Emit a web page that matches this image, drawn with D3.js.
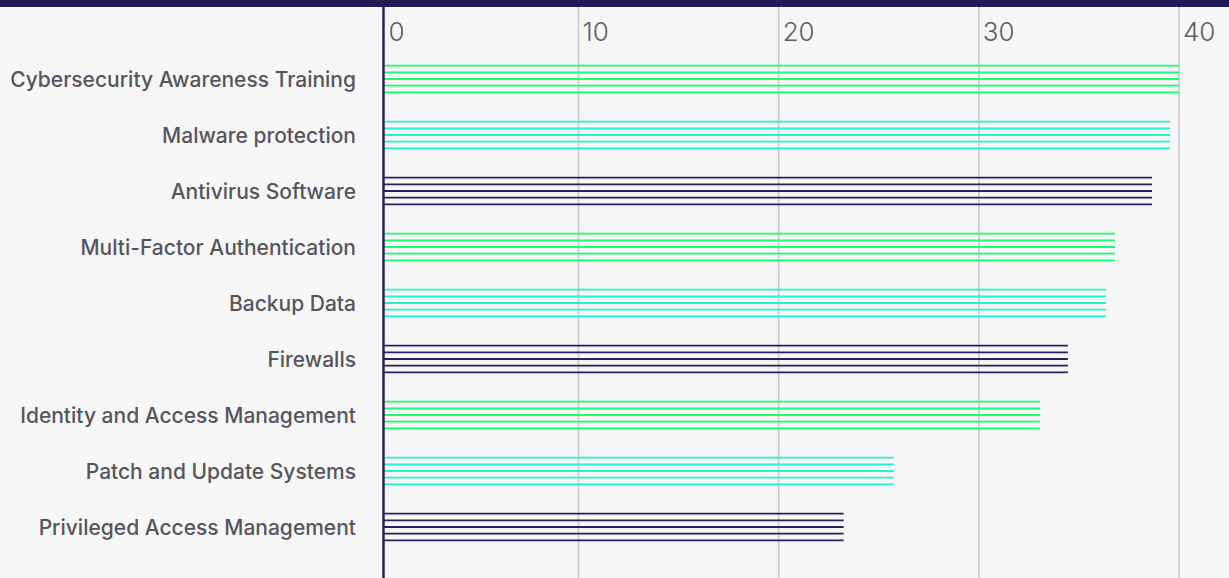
<!DOCTYPE html>
<html>
<head>
<meta charset="utf-8">
<script src="https://cdn.jsdelivr.net/npm/d3@7"></script>
<style>
  html, body { margin: 0; padding: 0; background: #f7f7f7; }
  svg { display: block; }
</style>
</head>
<body>
<svg id="chart" width="1229" height="578"></svg>
<script>
// Security measures in place and their share
const categories = [
  "Cybersecurity Awareness Training",
  "Malware protection",
  "Antivirus Software",
  "Multi-Factor Authentication",
  "Backup Data",
  "Firewalls",
  "Identity and Access Management",
  "Patch and Update Systems",
  "Privileged Access Management"
];
const values = [40, 39.55, 38.65, 36.8, 36.35, 34.45, 33.05, 25.75, 23.25];
const tickValues = [0, 10, 20, 30, 40];
const palette = ["#16ff6e", "#1cf5d2", "#2a1f62"];

const W = 1229, H = 578;
const svg = d3.select("#chart");

svg.append("rect").attr("width", W).attr("height", H).attr("fill", "#f7f7f7");

const x = d3.scaleLinear().domain([0, 40]).range([378.3, 1179]);
const y = d3.scalePoint().domain(categories).range([79, 527]);
const axisX = 383.5;
const plotTop = 7;

// vertical grid lines
svg.append("g")
  .selectAll("line")
  .data(tickValues.filter(d => d > 0))
  .join("line")
  .attr("x1", d => x(d)).attr("x2", d => x(d))
  .attr("y1", plotTop).attr("y2", H)
  .attr("stroke", "#cbc8d8")
  .attr("stroke-width", 1.6);

// tick labels along the top
svg.append("g")
  .selectAll("text")
  .data(tickValues)
  .join("text")
  .attr("x", d => (d === 0 ? axisX + 1 : x(d)) + 4)
  .attr("y", 41)
  .attr("font-family", "Inter, 'Noto Sans', sans-serif")
  .attr("font-weight", 300)
  .attr("font-size", 26)
  .attr("fill", "#5d5d66")
  .text(d => d);

// each bar is drawn as a stack of thin horizontal strokes
const strokes = [-2, -1, 0, 1, 2];
const gap = 6.67;
const rows = svg.append("g")
  .selectAll("g")
  .data(categories)
  .join("g");

rows.selectAll("line")
  .data((c, i) => strokes.map(k => ({ c, i, k })))
  .join("line")
  .attr("x1", axisX)
  .attr("x2", d => x(values[d.i]))
  .attr("y1", d => y(d.c) + d.k * gap)
  .attr("y2", d => y(d.c) + d.k * gap)
  .attr("stroke", d => palette[d.i % 3])
  .attr("stroke-width", 1.9);

// category labels
svg.append("g")
  .selectAll("text")
  .data(categories)
  .join("text")
  .attr("x", 356)
  .attr("y", d => y(d))
  .attr("dy", "0.36em")
  .attr("text-anchor", "end")
  .attr("font-family", "Inter, 'Noto Sans', sans-serif")
  .attr("font-weight", 500)
  .attr("font-size", 21)
  .attr("fill", "#55555c")
  .text(d => d);

// left axis line
svg.append("line")
  .attr("x1", axisX).attr("x2", axisX)
  .attr("y1", plotTop).attr("y2", H)
  .attr("stroke", "#231a58")
  .attr("stroke-width", 2.4);

// top band
svg.append("rect")
  .attr("x", 0).attr("y", 0)
  .attr("width", W).attr("height", plotTop)
  .attr("fill", "#231a58");
</script>
</body>
</html>
